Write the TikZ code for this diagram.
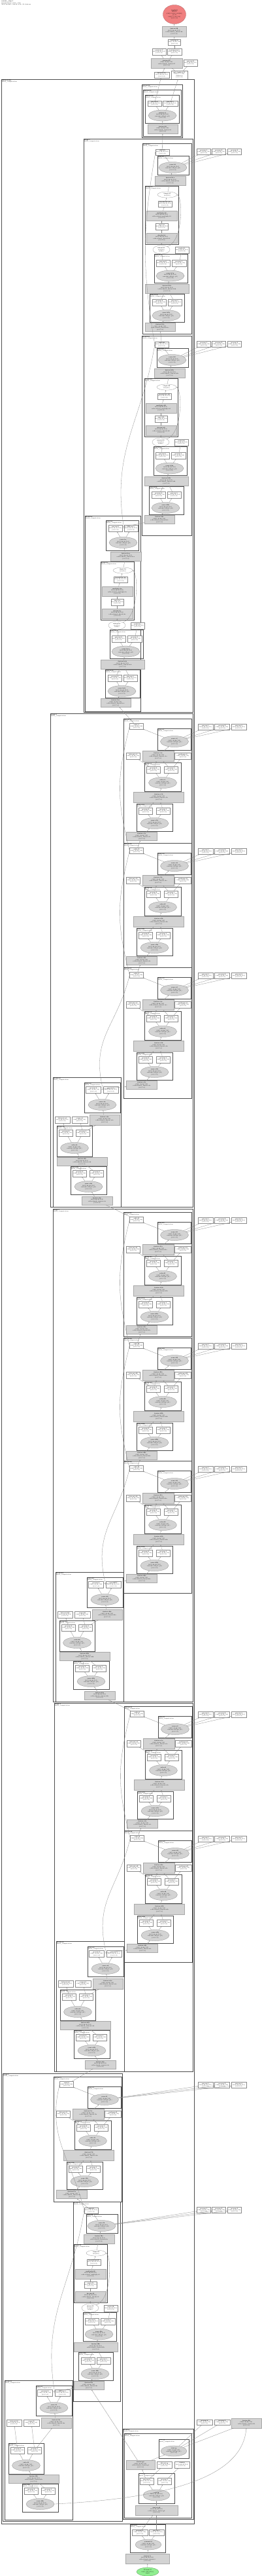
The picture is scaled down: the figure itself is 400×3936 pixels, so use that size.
\documentclass[tikz,border=0pt]{standalone}
\usepackage{fontspec}
\usepackage{xcolor}
\usepackage{tikz}
\usetikzlibrary{shapes.geometric,arrows.meta}
\definecolor{CLUS}{HTML}{4D4D4D}
\definecolor{EDGE}{HTML}{8A8A8A}
\definecolor{FUSE}{HTML}{D3D3D3}
\definecolor{ROOTC}{HTML}{F08080}
\definecolor{PARM}{HTML}{90EE90}
\newcommand{\tinyf}{\fontsize{2}{2.4}\selectfont}
\newcommand{\wlab}[1]{\textbf{#1}\\f32[1,28,28,512]\\\{3,2,1,0\}}
\newcommand{\glab}[1]{\textbf{#1}\\f32[1,28,28,512]\\calls=fused\_#1\\\{3,2,1,0\}}
\newcommand{\elab}[1]{\textbf{#1}\\f32[1,28,28,512]\\custom-call(p0, p1)\\\{3,2,1,0\}}
\newcommand{\clab}[1]{\textbf{#1}\\fused\_computation}

\begin{document}
\begin{tikzpicture}[
    x=1pt, y=-1pt,
    font=\tinyf,
    clus/.style={draw=CLUS, line width=0.55pt},
    outerc/.style={draw=CLUS, line width=0.9pt},
    clbl/.style={anchor=north west, inner sep=0.6pt, align=left, font=\tinyf},
    wbox/.style={draw=EDGE, line width=0.25pt, fill=white, inner sep=0.3pt, align=center, font=\tinyf, minimum width=21pt, minimum height=9pt},
    gbox/.style={wbox, draw=FUSE!80!black, fill=FUSE, minimum width=47pt, minimum height=14pt},
    gell/.style={ellipse, draw=FUSE!65!black, line width=0.25pt, fill=FUSE, inner sep=0pt, align=center, font=\tinyf, minimum width=43pt, minimum height=17pt},
    well/.style={gell, draw=EDGE, fill=white},
    conn/.style={draw=EDGE, line width=0.3pt, -{Stealth[length=1.5pt, width=1.2pt]}},
  ]
  \useasboundingbox[fill=white] (0,0) rectangle (400,3936);

  % header
  \node[clbl] (hdr) at (1.5,0.5) {\textbf{resnet\_step.1}\\Computation train\_step\\XLA module, fusion view, 24 clusters};

  % top nodes
  \node[gell, fill=ROOTC, draw=ROOTC!70!black, minimum width=35pt, minimum height=29pt] (root) at (267,22)
    {\textbf{tuple.9}\\ROOT\\(f32[1,1000], f32[64])\\\{1,0\}\\f32[7,7,512,512]\\\{3,2,1,0\}};
  \node[gbox, minimum width=37pt, minimum height=16pt] (tg0) at (266.5,48) {\glab{fusion.98}};
  \node[wbox, minimum width=18pt] (tw0) at (267,64.5) {\wlab{bitcast.4}};
  \node[wbox, minimum height=10pt] (tw1) at (243.5,79) {\wlab{convert.7}};
  \node[wbox, minimum width=22pt, minimum height=10pt] (tw2) at (267,79) {\wlab{transpose.3}};
  \node[gbox, minimum width=48pt, minimum height=15pt] (tg1) at (255,96.5) {\glab{fusion.97}};
  \node[wbox, minimum height=10pt] (tw3) at (291.5,96) {\wlab{param.2}};
  \node[wbox, minimum width=23pt] (tw4) at (247.5,114.5) {\wlab{bitcast.11}};
  \node[wbox, minimum width=25pt, minimum height=13pt] (tw5) at (274.5,114.5) {\textbf{get-tuple-el.5}\\f32[1,7,7,512]\\index=0\\\{3,2,1,0\}};
  \draw[conn] (tg0) -- (root);
  \draw[conn] (tw0) -- (tg0);
  \draw[conn] (tw2) -- (tw0);
  \draw[conn] (tg1) -- (tw1);
  \draw[conn] (tg1) -- (tw2);
  \draw[conn] (tw4) -- (tg1);
  \draw[conn] (tw5) -- (tg1);
  \draw[conn] (tw5) -- (tw3);

  % outer clusters
  \draw[outerc] (2,121) rectangle (297,3856);
  \node[clbl] (o-l) at (2,121) {\clab{while.body}};
  \draw[clus] (128,212) rectangle (295,1088);
  \node[clbl] (sb-l) at (128,212) {\clab{stage.1}};
  \draw[clus] (77,1090) rectangle (295,1844);
  \node[clbl] (sc-l) at (77,1090) {\clab{stage.2}};
  \draw[clus] (81,1847) rectangle (295,2600);
  \node[clbl] (sd-l) at (81,1847) {\clab{stage.3}};
  \draw[clus] (83,2602) rectangle (295,3165);
  \node[clbl] (se-l) at (83,2602) {\clab{stage.4}};
  \draw[clus] (4,3168) rectangle (187,3852);
  \node[clbl] (sf-l) at (4,3168) {\clab{stage.5}};

  % first fusion
  \draw[clus] (217,129) rectangle (279,210);
  \node[clbl] (a-l0) at (217,129) {\clab{fusion.96}};
  \draw[clus] (219,137) rectangle (277,208);
  \node[clbl] (a-l1) at (219,137) {\clab{fusion.95}};
  \draw[clus] (222,145) rectangle (274,188);
  \node[clbl] (a-l2) at (222,145) {\clab{fusion.94}};
  \node[wbox, minimum height=8pt] (a-p1) at (236.5,158) {\wlab{param.0}};
  \node[wbox, minimum width=23pt, minimum height=8pt] (a-p2) at (260.5,158) {\wlab{param.1}};
  \node[gell] (a-e) at (248.5,176.5) {\elab{reduce.3}};
  \node[gbox, minimum width=46pt] (a-g) at (249,197.5) {\glab{fusion.93}};
  \draw[conn] (a-p1) -- (tw4);
  \draw[conn] (a-p2) -- (tw5);
  \draw[conn] (a-e) -- (a-p1);
  \draw[conn] (a-e) -- (a-p2);
  \draw[conn] (a-g) -- (a-e);

  % normalising blocks
  \foreach \ux/\uy/\uw/\uh/\dx/\dy/\n in {218/219/75/291/0/0/b1, 217/513/76/305/0/0/b2,
      130/788/85/299/20/5/bc, 112/3364/72/305/-3/0/f2} {
    \draw[clus] (\ux,\uy) rectangle ++(\uw,\uh);
    \node[clbl] (\n-l0) at (\ux,\uy) {\clab{block.\n}};
    \begin{scope}[shift={({\ux+(\dx)},{\uy+(\dy)})}]
      \node[gbox] (\n-g1) at (42.5,57) {\glab{fusion.\n a}};
      \draw[clus] (4,65) rectangle (55,154);
      \node[clbl] (\n-l2) at (4,65) {\clab{norm.\n}};
      \node[well, minimum width=30pt, minimum height=9pt] (\n-we1) at (38,78.5) {\textbf{rsqrt.\n}\\f32[512]};
      \node[wbox] (\n-wb1) at (34.5,92.5) {\wlab{broadcast.\n}};
      \node[gbox, minimum height=15pt] (\n-gb1) at (29.5,110.5) {\glab{multiply.\n}};
      \node[wbox, minimum width=19pt, minimum height=10pt] (\n-wb2) at (29.5,127) {\wlab{sqrt.\n}};
      \node[gbox, minimum height=15pt] (\n-gb2) at (29.5,144.5) {\glab{divide.\n}};
      \node[well, minimum width=26pt, minimum height=13pt] (\n-we2) at (29,162.5) {\textbf{mean.\n}\\f32[512]\\reduce};
      \node[wbox, minimum height=10pt] (\n-wb3) at (60.5,163) {\wlab{scale.\n}};
      \draw[clus] (18,169) rectangle (69,213);
      \node[clbl] (\n-l3) at (18,169) {\clab{conv.\n a}};
      \node[wbox, minimum height=10pt] (\n-p1) at (31.5,183) {\wlab{param.0}};
      \node[wbox, minimum width=22pt, minimum height=10pt] (\n-p2) at (56,183) {\wlab{param.1}};
      \node[gell] (\n-e3) at (42.5,202.5) {\elab{conv.\n a}};
      \node[gbox, minimum width=67pt] (\n-g2) at (37.5,222) {\glab{fusion.\n b}};
      \draw[clus] (11,230) rectangle (64,273);
      \node[clbl] (\n-l4) at (11,230) {\clab{conv.\n b}};
      \node[wbox, minimum height=10pt] (\n-q1) at (26,243) {\wlab{param.0}};
      \node[wbox, minimum height=10pt] (\n-q2) at (49.5,243) {\wlab{param.1}};
      \node[gell] (\n-e4) at (36.5,263) {\elab{conv.\n b}};
      \node[gbox, minimum width=46pt, minimum height=13pt] (\n-g3) at (27,281) {\glab{fusion.\n c}};
      \draw[conn] (\n-we1) -- (\n-g1);
      \draw[conn] (\n-wb1) -- (\n-we1);
      \draw[conn] (\n-gb1) -- (\n-wb1);
      \draw[conn] (\n-wb2) -- (\n-gb1);
      \draw[conn] (\n-gb2) -- (\n-wb2);
      \draw[conn] (\n-we2) -- (\n-gb2);
      \draw[conn] (\n-we2.north east) .. controls (62,150) and (62,84) .. (\n-we1.east);
      \draw[conn] (\n-p1) -- (\n-we2);
      \draw[conn] (\n-p2) -- (\n-wb3);
      \draw[conn] (\n-e3) -- (\n-p1);
      \draw[conn] (\n-e3) -- (\n-p2);
      \draw[conn] (\n-g2) -- (\n-e3);
      \draw[conn] (\n-q1) -- (\n-g2);
      \draw[conn] (\n-q2) -- (\n-g2);
      \draw[conn] (\n-e4) -- (\n-q1);
      \draw[conn] (\n-e4) -- (\n-q2);
      \draw[conn] (\n-g3) -- (\n-e4);
    \end{scope}
  }
  \foreach \ux/\uy/\dx/\n in {218/219/0/b1, 217/513/0/b2, 112/3364/-3/f2} {
    \begin{scope}[shift={({\ux+(\dx)},\uy)}]
      \node[wbox] (\n-add) at (30.5,13.5) {\wlab{add.\n}};
      \draw[clus] (23,19) rectangle (71,48);
      \node[clbl] (\n-l1) at (23,19) {\clab{conv.\n}};
      \node[gell] (\n-e1) at (46.5,37) {\elab{conv.\n}};
      \foreach \k/\xx in {1/312, 2/335, 3/359}
        \node[wbox] (\n-x\k) at ({\xx-\ux-(\dx)},13) {\wlab{param.\k}};
      \foreach \k in {1,2,3} \draw[conn] (\n-e1) -- (\n-x\k);
      \draw[conn] (\n-e1) -- (\n-add);
      \draw[conn] (\n-g1) -- (\n-e1);
    \end{scope}
  }
  \draw[clus] (162,795) rectangle (212,841);
  \node[clbl] (bc-l1) at (162,795) {\clab{conv.bc}};
  \node[wbox, minimum height=10pt] (bc-t1) at (176.5,807.5) {\wlab{param.0}};
  \node[wbox, minimum height=10pt] (bc-t2) at (200.5,807.5) {\wlab{param.1}};
  \node[gell] (bc-e1) at (188.5,829) {\elab{conv.bc}};
  \draw[conn] (bc-e1) -- (bc-t1);
  \draw[conn] (bc-e1) -- (bc-t2);
  \draw[conn] (bc-g1) -- (bc-e1);

  % bottleneck units on the right
  \foreach \ux/\uy/\uh/\n in {189/1098/190/c1, 189/1288/190/c2, 189/1478/200/c3,
      189/1852/190/d1, 189/2044/188/d2, 189/2232/202/d3,
      190/2607/190/e1, 190/2797/201/e2, 82/3173/191/f1} {
    \begin{scope}[shift={(\ux,\uy)}]
      \draw[clus] (0,0) rectangle (104,\uh);
      \node[clbl] (\n-l0) at (0,0) {\clab{fusion.\n}};
      \node[wbox] (\n-add) at (20,12) {\wlab{add.\n}};
      \draw[clus] (52,15) rectangle (103,48);
      \node[clbl] (\n-l1) at (52,15) {\clab{conv.\n}};
      \node[gell] (\n-e1) at (78,35) {\elab{conv.\n}};
      \node[wbox, minimum height=10pt] (\n-wl) at (15,57) {\wlab{bitcast.\n}};
      \node[gbox, minimum width=48pt, minimum height=16pt] (\n-g1) at (53,57) {\glab{fusion.\n a}};
      \node[wbox, minimum width=25pt, minimum height=10pt] (\n-wr) at (91,57) {\wlab{reshape.\n}};
      \draw[clus] (32,67) rectangle (88,111);
      \node[clbl] (\n-l2) at (32,67) {\clab{norm.\n}};
      \node[wbox, minimum height=10pt] (\n-p1) at (46,78) {\wlab{param.0}};
      \node[wbox, minimum height=10pt] (\n-p2) at (73,78) {\wlab{param.1}};
      \node[gell] (\n-e2) at (60,98) {\elab{relu.\n}};
      \node[gbox, minimum width=77pt, minimum height=16pt] (\n-g2) at (54,120) {\glab{fusion.\n b}};
      \draw[clus] (20,130) rectangle (75,172);
      \node[clbl] (\n-l3) at (20,130) {\clab{conv.\n b}};
      \node[wbox, minimum height=10pt] (\n-q1) at (34,141) {\wlab{param.0}};
      \node[wbox, minimum height=10pt] (\n-q2) at (61,141) {\wlab{param.1}};
      \node[gell] (\n-e3) at (47.5,160) {\elab{conv.\n b}};
      \node[gbox, minimum height=13pt] (\n-g3) at (28,180) {\glab{fusion.\n c}};
      \foreach \k/\xx in {1/314.5, 2/340, 3/365.5}
        \node[wbox, minimum width=23pt] (\n-x\k) at ({\xx-\ux},13) {\wlab{param.\k}};
      \foreach \k in {1,2,3} \draw[conn] (\n-e1) -- (\n-x\k);
      \draw[conn] (\n-e1) -- (\n-add);
      \draw[conn] (\n-g1) -- (\n-e1);
      \draw[conn] (\n-p1) -- (\n-wl);
      \draw[conn] (\n-p1) -- (\n-g1);
      \draw[conn] (\n-p2) -- (\n-g1);
      \draw[conn] (\n-p2) -- (\n-wr);
      \draw[conn] (\n-e2) -- (\n-p1);
      \draw[conn] (\n-e2) -- (\n-p2);
      \draw[conn] (\n-g2) -- (\n-e2);
      \draw[conn] (\n-q1) -- (\n-g2);
      \draw[conn] (\n-q2) -- (\n-g2);
      \draw[conn] (\n-e3) -- (\n-q1);
      \draw[conn] (\n-e3) -- (\n-q2);
      \draw[conn] (\n-g3) -- (\n-e3);
    \end{scope}
  }

  % downsampling units on the left
  \foreach \ux/\uy/\uh/\ds/\n in {81/1646/198/0/c4, 85/2402/198/0/d4, 86/2966/199/0/e3, 7/3637/213/22/f3} {
    \begin{scope}[shift={(\ux,\uy)}]
      \draw[clus] (0,0) rectangle (104,\uh);
      \node[clbl] (\n-l0) at (0,0) {\clab{block.\n}};
      \draw[clus] (48,8) rectangle (103,54);
      \node[clbl] (\n-l1) at (48,8) {\clab{conv.\n}};
      \node[wbox, minimum width=23pt, minimum height=10pt] (\n-t1) at (62,19.5) {\wlab{param.0}};
      \node[wbox, minimum width=23pt, minimum height=10pt] (\n-t2) at (88.5,19.5) {\wlab{param.1}};
      \node[gell] (\n-e1) at (75.5,42) {\elab{conv.\n}};
      \node[wbox, minimum width=23pt, minimum height=10pt] (\n-s1) at (14.5,65) {\wlab{bitcast.\n}};
      \node[wbox, minimum width=24pt, minimum height=10pt] (\n-s2) at (41,65) {\wlab{copy.\n}};
      \node[gbox, minimum width=46pt, minimum height=16pt] (\n-g1) at (79,65) {\glab{fusion.\n a}};
      \draw[clus] (6,74+\ds) rectangle (60,121+\ds);
      \node[clbl] (\n-l2) at (6,74+\ds) {\clab{norm.\n}};
      \node[wbox, minimum height=10pt] (\n-p1) at (20,85+\ds) {\wlab{param.0}};
      \node[wbox, minimum height=10pt] (\n-p2) at (46,85+\ds) {\wlab{param.1}};
      \node[gell] (\n-e2) at (33,108+\ds) {\elab{relu.\n}};
      \node[gbox, minimum width=77pt, minimum height=13pt] (\n-g2) at (44.5,129+\ds) {\glab{fusion.\n b}};
      \draw[clus] (27,136+\ds) rectangle (82,179+\ds);
      \node[clbl] (\n-l3) at (27,136+\ds) {\clab{conv.\n b}};
      \node[wbox, minimum height=10pt] (\n-q1) at (41,147+\ds) {\wlab{param.0}};
      \node[wbox, minimum height=10pt] (\n-q2) at (67,147+\ds) {\wlab{param.1}};
      \node[gell] (\n-e3) at (54.5,167+\ds) {\elab{conv.\n b}};
      \ifnum\ds=0
        \node[gbox, minimum height=13pt] (\n-g3) at (67.5,188.5) {\glab{fusion.\n c}};
        \draw[conn] (\n-g3) -- (\n-e3);
      \fi
      \draw[conn] (\n-e1) -- (\n-t1);
      \draw[conn] (\n-e1) -- (\n-t2);
      \draw[conn] (\n-g1) -- (\n-e1);
      \draw[conn] (\n-p1) -- (\n-s1);
      \draw[conn] (\n-p2) -- (\n-s2);
      \draw[conn] (\n-p2) -- (\n-g1);
      \draw[conn] (\n-e2) -- (\n-p1);
      \draw[conn] (\n-e2) -- (\n-p2);
      \draw[conn] (\n-g2) -- (\n-e2);
      \draw[conn] (\n-q1) -- (\n-g2);
      \draw[conn] (\n-q2) -- (\n-g2);
      \draw[conn] (\n-e3) -- (\n-q1);
      \draw[conn] (\n-e3) -- (\n-q2);
    \end{scope}
  }

  % last fusion group
  \draw[clus] (188,3711) rectangle (296,3849);
  \node[clbl] (g-l0) at (188,3711) {\clab{block.g}};
  \draw[clus] (190,3718) rectangle (293,3847);
  \node[clbl] (g-l1) at (190,3718) {\clab{fusion.g}};
  \draw[clus] (243,3727) rectangle (289,3756);
  \node[clbl] (g-l2) at (243,3727) {\clab{conv.g}};
  \node[gell, minimum width=40pt, minimum height=16pt] (g-e1) at (266,3745) {\elab{conv.g}};
  \node[gbox, minimum width=44pt] (g-g1) at (215,3766) {\glab{fusion.g1}};
  \node[wbox, minimum width=23pt, minimum height=10pt] (g-s1) at (251.5,3766) {\wlab{bitcast.g}};
  \node[wbox, minimum width=23pt, minimum height=10pt] (g-s2) at (278.5,3766) {\wlab{copy.g}};
  \draw[clus] (212,3779) rectangle (267,3825);
  \node[clbl] (g-l3) at (212,3779) {\clab{norm.g}};
  \node[wbox, minimum height=10pt] (g-p1) at (224.5,3791.5) {\wlab{param.0}};
  \node[wbox, minimum height=10pt] (g-p2) at (252,3791.5) {\wlab{param.1}};
  \node[gell, minimum width=41pt] (g-e2) at (239.5,3812.5) {\elab{relu.g}};
  \node[gbox, minimum width=65pt, minimum height=15pt] (g-g2) at (239.5,3835.5) {\glab{fusion.g2}};
  \node[wbox, minimum width=24pt, minimum height=8pt] (g-x1) at (313,3701) {\wlab{param.4}};
  \node[wbox, minimum width=24pt, minimum height=8pt] (g-x2) at (340,3701) {\wlab{param.5}};
  \node[gbox, minimum width=46pt, minimum height=15pt] (g-xg) at (377,3702.5) {\glab{fusion.99}};
  \draw[conn] (g-e1) -- (g-x1);
  \draw[conn] (g-e1) -- (g-x2);
  \draw[conn] (g-e1) -- (g-xg);
  \draw[conn] (g-g1) -- (g-e1);
  \draw[conn] (g-p1) -- (g-g1);
  \draw[conn] (g-p1) -- (g-s1);
  \draw[conn] (g-p2) -- (g-s2);
  \draw[conn] (g-e2) -- (g-p1);
  \draw[conn] (g-e2) -- (g-p2);
  \draw[conn] (g-g2) -- (g-e2);
  \draw[conn] (f3-e3.east) .. controls (300,3815) and (372,3770) .. (g-xg.south);

  % output fusion
  \draw[clus] (199,3857) rectangle (253,3900);
  \node[clbl] (h-l0) at (199,3857) {\clab{fusion.0}};
  \node[wbox, minimum width=24pt] (h-p1) at (214,3869.5) {\wlab{param.0}};
  \node[wbox, minimum width=23pt] (h-p2) at (239.5,3869.5) {\wlab{param.1}};
  \node[gell, minimum width=40pt, minimum height=16pt] (h-e) at (227,3888) {\elab{convert.0}};
  \node[gbox, minimum width=67pt, minimum height=15pt] (h-g) at (225.5,3909.5) {\glab{fusion.0}};
  \node[gell, fill=PARM, draw=PARM!60!black, minimum width=34pt, minimum height=13pt] (parm) at (226,3929.5)
    {\textbf{Param 0}\\f32[1,224,224,3]\\input};
  \draw[conn] (h-e) -- (h-p1);
  \draw[conn] (h-e) -- (h-p2);
  \draw[conn] (h-g) -- (h-e);
  \draw[conn] (parm) -- (h-g);

  % unit to unit
  \foreach \lo/\hi in {b1-add/a-g, b2-add/b1-g3, bc-t1/b2-g3, c1-add/bc-g3, c2-add/c1-g3,
      c3-add/c2-g3, c4-t1/c3-g3, d1-add/c4-g3, d2-add/d1-g3, d3-add/d2-g3, d4-t1/d3-g3,
      e1-add/d4-g3, e2-add/e1-g3, e3-t1/e2-g3, f1-add/e3-g3, f2-add/f1-g3, f3-t1/f2-g3,
      g-g1/f2-g3, h-p1/g-g2, h-p2/g-g2}
    \draw[conn] (\lo) -- (\hi);
  % skip connections
  \foreach \lo/\hi/\d in {b2-add/b1-add/120, bc-t2/b2-add/120, c2-add/c1-add/80, c3-add/c2-add/80,
      c4-t2/c3-add/80, d2-add/d1-add/80, d3-add/d2-add/80, d4-t2/d3-add/80, e2-add/e1-add/80,
      e3-t2/e2-add/80, f2-add/f1-add/80, f3-t2/f2-add/120}
    \draw[conn] (\lo.west) .. controls +(-20,-\d) and +(-20,\d) .. (\hi.west);

\end{tikzpicture}
\end{document}
